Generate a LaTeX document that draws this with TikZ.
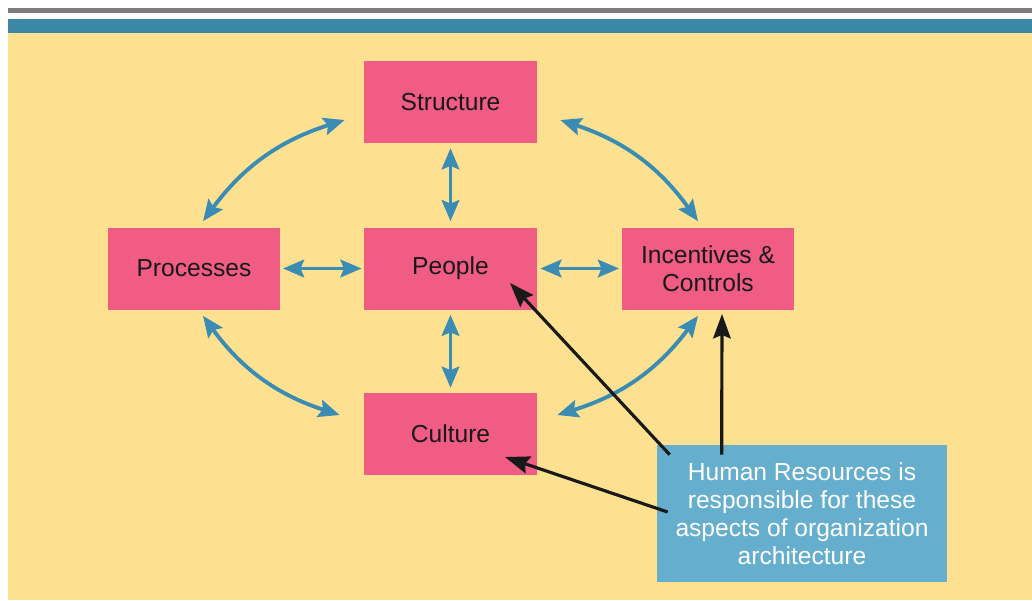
\documentclass[tikz,border=0pt]{standalone}
\usepackage{fontspec}
\setmainfont{Liberation Sans}
\usetikzlibrary{arrows.meta}
\definecolor{paper}{RGB}{253,225,145}
\definecolor{rulegray}{RGB}{128,124,124}
\definecolor{ruleblue}{RGB}{60,135,165}
\definecolor{pinkbox}{RGB}{240,92,132}
\definecolor{linkblue}{RGB}{58,140,178}
\definecolor{hrblue}{RGB}{102,174,206}
\begin{document}
\begin{tikzpicture}[x=0.02cm, y=-0.02cm,
    block/.style={fill=pinkbox, inner sep=0pt, minimum width=3.46cm, minimum height=1.64cm,
      text=black!90, align=center, font=\fontsize{14}{16}\selectfont},
    link/.style={draw=linkblue, line width=2.2pt,
      {Stealth[length=12pt,width=10pt,inset=2pt]}-{Stealth[length=12pt,width=10pt,inset=2pt]}},
    pointer/.style={draw=black!90, line width=1.8pt, -{Stealth[length=14pt,width=10pt,inset=2pt]}}]
    \useasboundingbox (0,0) rectangle (1032,600);
    % Page rules and background
    \fill[rulegray] (8,8) rectangle (1032,13);
    \fill[ruleblue] (8,19) rectangle (1032,33);
    \fill[paper] (8,33) rectangle (1032,600);
    % Architecture blocks
    \node[block] (structure)  at (450.5,102)   {Structure};
    \node[block] (processes)  at (194,268.5)   {Processes};
    \node[block] (people)     at (450.5,268.5) {People};
    \node[block] (incentives) at (708,268.5)   {Incentives \&\\Controls};
    \node[block] (culture)    at (450.5,434)   {Culture};
    % Human resources callout
    \node[fill=hrblue, inner sep=0pt, minimum width=5.8cm, minimum height=2.74cm,
      text=white, align=center, font=\fontsize{14}{16}\selectfont]
      (hr) at (802,513.5) {Human Resources is\\responsible for these\\aspects of organization\\architecture};
    % Outer curved links
    \draw[link] ([shift={(-19,18)}]structure.west) to[bend right=18] ([shift={(9,-6)}]processes.north);
    \draw[link] ([shift={(23,18)}]structure.east) to[bend left=18] ([shift={(-10,-6)}]incentives.north);
    \draw[link] ([shift={(9,6)}]processes.south) to[bend right=18] ([shift={(-24,-19)}]culture.west);
    \draw[link] ([shift={(-10,6)}]incentives.south) to[bend left=18] ([shift={(20,-19)}]culture.east);
    % Inner straight links
    \draw[link, shorten <=2.8pt, shorten >=3.4pt] (structure.south) -- (people.north);
    \draw[link, shorten <=2.8pt, shorten >=2.8pt] (people.south) -- (culture.north);
    \draw[link, shorten <=1.2pt, shorten >=1.2pt] (processes.east) -- (people.west);
    \draw[link, shorten <=1.7pt, shorten >=1.2pt] (people.east) -- (incentives.west);
    % HR pointers
    \draw[pointer] ([shift={(13,10)}]hr.north west) -- ([shift={(59.5,14.5)}]people.center);
    \draw[pointer] ([shift={(65,10)}]hr.north west) -- ([shift={(14,4)}]incentives.south);
    \draw[pointer] ([shift={(11,-1.5)}]hr.west) -- ([shift={(54.5,23)}]culture.center);
\end{tikzpicture}
\end{document}
